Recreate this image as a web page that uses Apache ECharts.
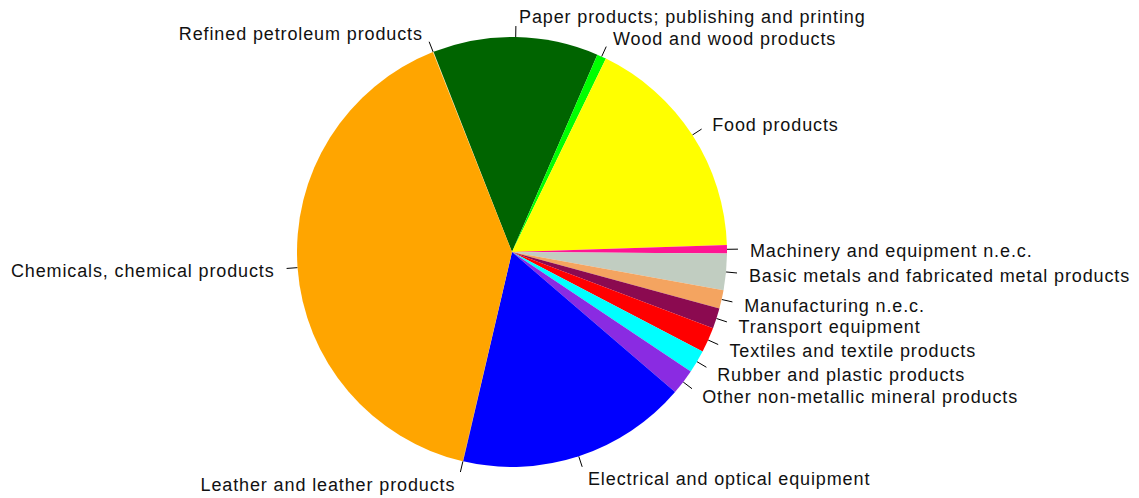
<!DOCTYPE html>
<html>
<head>
<meta charset="utf-8">
<script src="https://cdn.jsdelivr.net/npm/echarts@6/dist/echarts.min.js"></script>
<style>
html,body{margin:0;padding:0;background:#fff}
#c{width:1139px;height:498px}
#c svg text{letter-spacing:0.88px}
</style>
</head>
<body>
<div id="c"></div>
<script>
var categories = [
  "Refined petroleum products",
  "Paper products; publishing and printing",
  "Wood and wood products",
  "Food products",
  "Machinery and equipment n.e.c.",
  "Basic metals and fabricated metal products",
  "Manufacturing n.e.c.",
  "Transport equipment",
  "Textiles and textile products",
  "Rubber and plastic products",
  "Other non-metallic mineral products",
  "Electrical and optical equipment",
  "Leather and leather products",
  "Chemicals, chemical products"
];
var values = [0.05, 12.45, 0.7, 17.3, 0.62, 2.74, 1.39, 1.53, 1.89, 1.72, 1.92, 17.36, 0.03, 40.33];
var colors = ["#FFE8A8", "#006400", "#00FF00", "#FFFF00", "#FF1493", "#C1CDC1", "#F4A460", "#8B0A50", "#FF0000", "#00FFFF", "#8A2BE2", "#0000FF", "#A0522D", "#FFA500"];

var CX = 512, CY = 252;
var chart = echarts.init(document.getElementById('c'), null, {renderer: 'svg'});
var data = categories.map(function (c, i) {
  return {name: c, value: values[i], itemStyle: {color: colors[i]}};
});
chart.setOption({
  animation: false,
  series: [{
    type: 'pie',
    center: [CX, CY],
    radius: 215,
    startAngle: 111.6,
    clockwise: true,
    minShowLabelAngle: 0,
    avoidLabelOverlap: true,
    data: data,
    itemStyle: {borderWidth: 0},
    label: {
      show: true,
      position: 'outside',
      color: '#111',
      fontFamily: '"Liberation Sans", Arial, sans-serif',
      fontSize: 18,
      distanceToLabelLine: 0
    },
    labelLine: {
      show: true,
      length: 11,
      length2: 0,
      smooth: false,
      lineStyle: {color: '#000', width: 1}
    },
    labelLayout: function (p) {
      var pts = p.labelLinePoints;
      if (!pts || !pts.length) return {};
      var a = pts[0];
      var ang = Math.atan2(a[0] - CX, -(a[1] - CY));
      var s = Math.sin(ang), c = Math.cos(ang);
      var side = s >= 0 ? 1 : -1;
      return {dx: side * (3 + 9 * Math.abs(s)), dy: 2 - 11 * c};
    },
    emphasis: {disabled: true}
  }]
});
</script>
</body>
</html>
